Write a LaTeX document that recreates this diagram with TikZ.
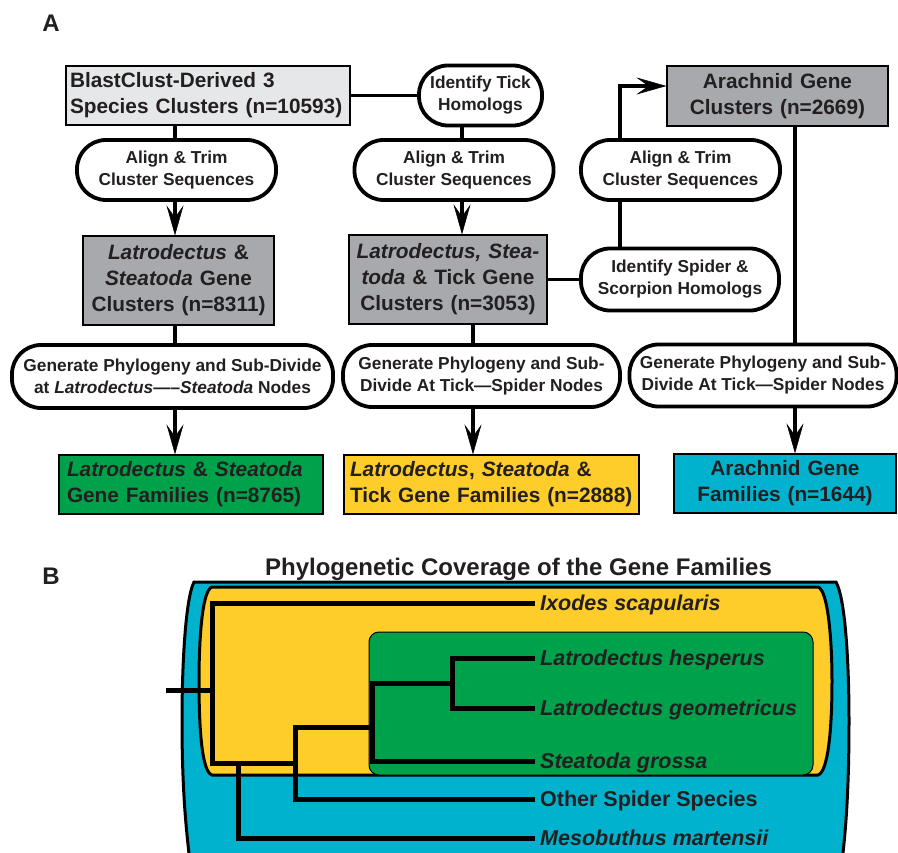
\documentclass[tikz,border=0pt]{standalone}
\usepackage{fontspec}
\setmainfont{Liberation Sans}
\usepackage{tikz}
\usetikzlibrary{calc}
\usetikzlibrary{arrows.meta}
\tikzset{>={Stealth[length=30pt,width=17pt,inset=12pt,line width=0.5pt]}}
\usepackage{color}
\definecolor{inkColor}{RGB}{35, 31, 32}
\definecolor{lightGray}{RGB}{230, 231, 232}
\definecolor{darkGray}{RGB}{167, 169, 172}
\definecolor{familyGreen}{RGB}{0, 161, 75}
\definecolor{familyYellow}{RGB}{255, 205, 41}
\definecolor{familyCyan}{RGB}{0, 178, 205}

\begin{document}
\begin{tikzpicture}[
    x = 1pt, y = -1pt,
    every node/.style = {text=inkColor},
    box/.style = {draw=black, line width=1.2pt, inner xsep=4pt, inner ysep=0pt,
        font=\fontsize{20.8}{26}\selectfont\bfseries},
    pill/.style = {draw=black, line width=3.8pt, fill=white, rounded corners=29pt,
        minimum height=60pt, inner sep=0pt, align=center,
        font=\fontsize{17.3}{22}\selectfont\bfseries},
    link/.style = {line width=3.5pt},
    branch/.style = {line width=5pt, line cap=rect},
    leaf/.style = {anchor=west, inner xsep=8pt, text height=15.4pt, text depth=0pt,
        font=\fontsize{21.5}{24}\selectfont\bfseries},
    panel/.style = {anchor=base, font=\fontsize{24}{24}\selectfont\bfseries}
  ]
  \useasboundingbox (0,0) rectangle (898,853);

  % columns of the connectors
  \coordinate (col1) at (175,0);
  \coordinate (col2a) at (462,0);
  \coordinate (col2b) at (473,0);
  \coordinate (col3a) at (620,0);
  \coordinate (col3b) at (795,0);

  % panel A
  \node[panel] (labelA) at (51,32) {A};

  \node[box, fill=lightGray, text width=276pt, align=left, minimum height=59pt]
    (clusters3) at (208,95.5) {BlastClust-Derived 3\\Species Clusters (n=10593)};
  \node[pill, minimum width=123pt] (tickHom) at (480.5,95.5) {Identify Tick\\Homologs};
  \node[box, fill=darkGray, text width=213pt, align=center, minimum height=60pt]
    (arachClust) at (777.5,96) {Arachnid Gene\\Clusters (n=2669)};

  \foreach \x/\name in {176.5/align1, 454/align2, 680.5/align3}
  \node[pill, minimum width=199pt] (\name) at (\x,170) {Align \& Trim\\Cluster Sequences};

  \node[box, fill=darkGray, text width=183pt, align=center, minimum height=89pt]
    (latSteClust) at (178.5,280.5) {\textit{Latrodectus} \&\\\textit{Steatoda} Gene\\Clusters (n=8311)};
  \node[box, fill=darkGray, text width=190pt, align=center, minimum height=89pt]
    (latSteTickClust) at (448,279.5) {\textit{Latrodectus, Stea-}\\\textit{toda} \& Tick Gene\\Clusters (n=3053)};
  \node[pill, minimum width=198pt, minimum height=62pt] (spiderHom) at (680,279.5)
    {Identify Spider \&\\Scorpion Homologs};

  \node[pill, minimum width=321pt, minimum height=63pt] (gen1) at (172.5,376.5)
    {Generate Phylogeny and Sub-Divide\\at \textit{Latrodectus}—–\textit{Steatoda} Nodes};
  \node[pill, minimum width=277pt, minimum height=62pt] (gen2) at (481.5,376)
    {Generate Phylogeny and Sub-\\Divide At Tick—Spider Nodes};
  \node[pill, minimum width=267pt, minimum height=62pt] (gen3) at (763,375.5)
    {Generate Phylogeny and Sub-\\Divide At Tick—Spider Nodes};

  \node[box, fill=familyGreen, text width=248pt, inner xsep=8pt, align=left, minimum height=59pt]
    (latSteFam) at (191,484.5) {\textit{Latrodectus} \& \textit{Steatoda}\\Gene Families (n=8765)};
  \node[box, fill=familyYellow, text width=283pt, inner xsep=6pt, align=left, minimum height=59pt]
    (latSteTickFam) at (491.5,484.5) {\textit{Latrodectus}, \textit{Steatoda} \&\\Tick Gene Families (n=2888)};
  \node[box, fill=familyCyan, text width=214pt, align=center, minimum height=59pt]
    (arachFam) at (785,483.5) {Arachnid Gene\\Families (n=1644)};

  \draw[link] (clusters3.east) -- (tickHom.west);
  \draw[link] (clusters3.south -| col1) -- (align1.north -| col1);
  \draw[link, ->] (align1.south -| col1) -- (latSteClust.north -| col1);
  \draw[link] (latSteClust.south -| col1) -- (gen1.north -| col1);
  \draw[link, ->] (gen1.south -| col1) -- (latSteFam.north -| col1);

  \draw[link] (tickHom.south -| col2a) -- (align2.north -| col2a);
  \draw[link, ->] (align2.south -| col2a) -- (latSteTickClust.north -| col2a);
  \draw[link] (latSteTickClust.east) -- (spiderHom.west);
  \draw[link] (latSteTickClust.south -| col2b) -- (gen2.north -| col2b);
  \draw[link, ->] (gen2.south -| col2b) -- (latSteTickFam.north -| col2b);

  \draw[link] (spiderHom.north -| col3a) -- (align3.south -| col3a);
  \draw[link, ->] (align3.north -| col3a) |- ([yshift=10pt]arachClust.west);
  \draw[link] (arachClust.south -| col3b) -- (gen3.north -| col3b);
  \draw[link, ->] (gen3.south -| col3b) -- (arachFam.north -| col3b);

  % panel B
  \node[panel] (labelB) at (51,584) {B};
  \node[panel] (coverTitle) at (518.5,575) {Phylogenetic Coverage of the Gene Families};

  \draw[line width=3pt, fill=familyCyan] (194,582) -- (836,582)
    .. controls (846,600) and (849,670) .. (849,720)
    .. controls (849,790) and (846,830) .. (841,870) -- (191,870)
    .. controls (186,830) and (182,790) .. (182,720)
    .. controls (182,670) and (185,600) .. (194,582) -- cycle;
  \draw[line width=3pt, fill=familyYellow] (212,587) -- (818,587)
    .. controls (828,590) and (832,640) .. (832,681)
    .. controls (832,730) and (828,772) .. (818,775) -- (212,775)
    .. controls (202,772) and (199,730) .. (199,681)
    .. controls (199,640) and (202,590) .. (212,587) -- cycle;
  \draw[line width=1pt, fill=familyGreen, rounded corners=10pt] (369,632) rectangle (813,775);

  \node[leaf] (ixodes) at (532,603) {\textit{Ixodes scapularis}};
  \node[leaf] (latHesp) at (532,658) {\textit{Latrodectus hesperus}};
  \node[leaf] (latGeo) at (532,708) {\textit{Latrodectus geometricus}};
  \node[leaf] (steatoda) at (532,761) {\textit{Steatoda grossa}};
  \node[leaf] (otherSp) at (532,799) {Other Spider Species};
  \node[leaf] (mesobuthus) at (532,838) {\textit{Mesobuthus martensii}};

  \draw[branch] (168,690) -- (212,690);
  \draw[branch] (ixodes.west) -| (212,763) -- (295,763);
  \draw[branch] (238,763) |- (mesobuthus.west);
  \draw[branch] (otherSp.west) -| (295,727) -- (372,727);
  \draw[branch] (steatoda.west) -| (372,683) -- (452,683);
  \draw[branch] (latHesp.west) -| (452,708) -- (latGeo.west);
\end{tikzpicture}
\end{document}
